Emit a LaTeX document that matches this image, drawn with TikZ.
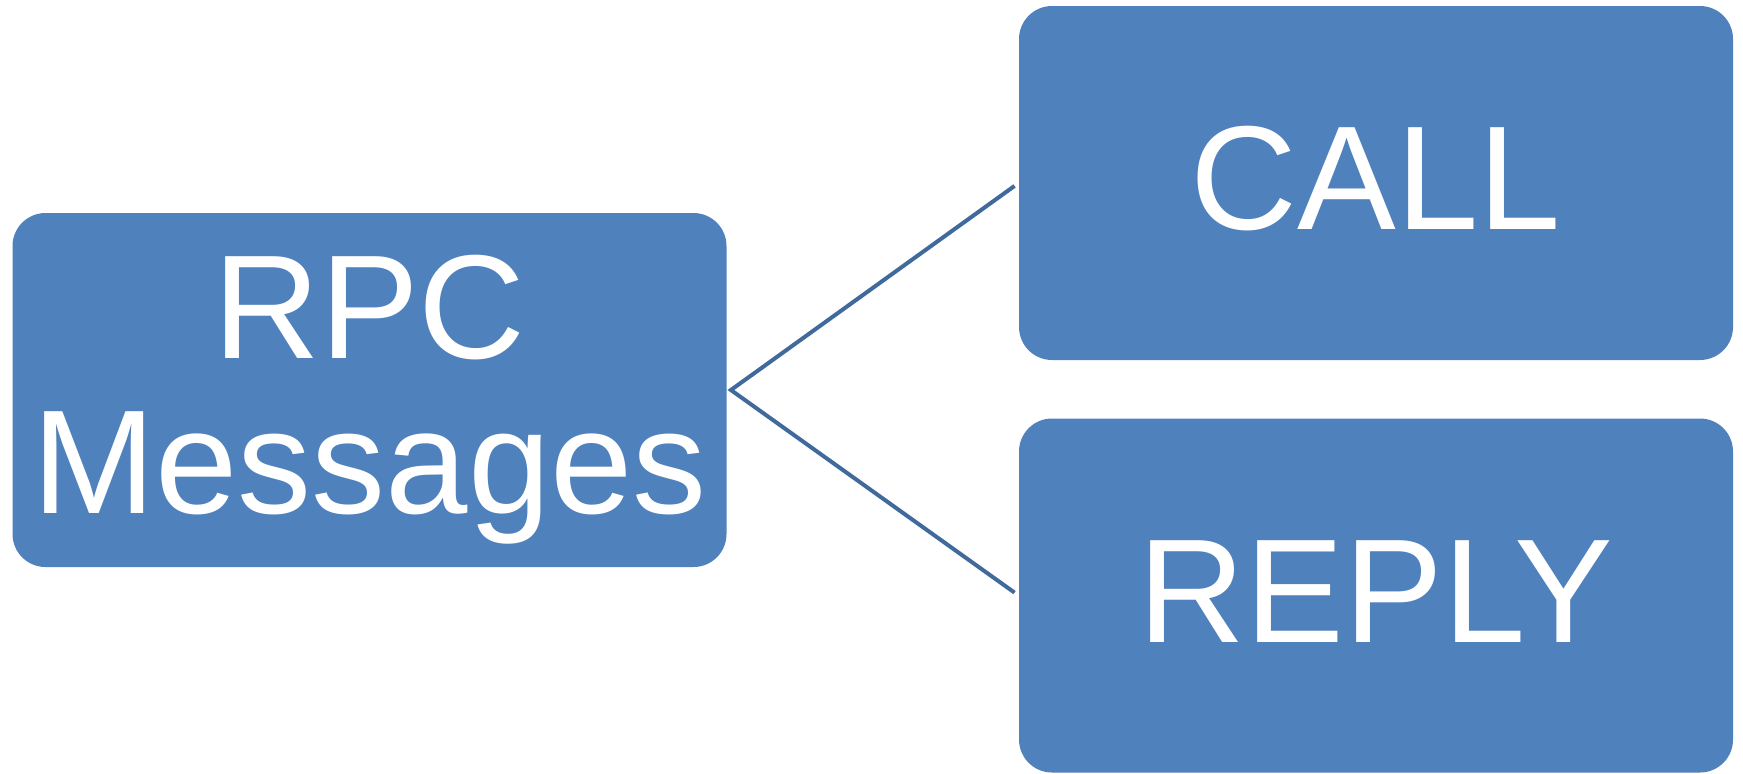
\documentclass[tikz,border=0pt]{standalone}
\usepackage{fontspec}
\setmainfont{Liberation Sans}
\definecolor{boxblue}{HTML}{4F81BD}
\definecolor{linkblue}{HTML}{40699C}
\begin{document}
\begin{tikzpicture}[x=0.5pt,y=-0.5pt,
  msgbox/.style={fill=boxblue, draw=none, rounded corners=16.5pt,
    inner sep=0pt, minimum width=357pt, minimum height=177pt,
    text=white, align=center,
    font=\fontsize{74pt}{77.5pt}\selectfont},
  oneline/.style={text height=54pt, text depth=7.5pt},
  link/.style={draw=linkblue, line width=2pt, shorten <=2.5pt, shorten >=2.5pt}]
  \useasboundingbox (0,0) rectangle (1743,773);

  % message kinds
  \node[msgbox] (rpc) at (369.5,390) {\rule{0pt}{61pt}RPC\\Messages};
  \node[msgbox, oneline] (call) at (1376,183) {CALL};
  \node[msgbox, oneline] (reply) at (1376,595.5) {REPLY};

  % branches from the root to both kinds
  \draw[link] (call.west) -- ([xshift=2pt]rpc.east) -- (reply.west);
\end{tikzpicture}
\end{document}
